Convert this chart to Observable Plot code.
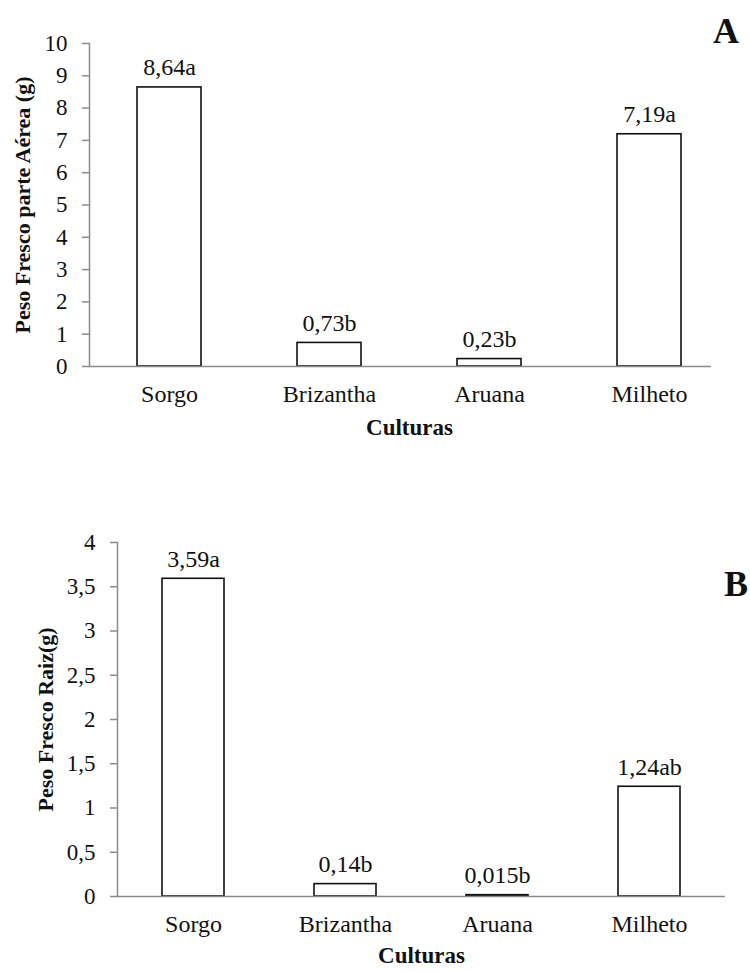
<!DOCTYPE html>
<html>
<head>
<meta charset="utf-8">
<script src="https://cdn.jsdelivr.net/npm/d3@7"></script>
<script src="https://cdn.jsdelivr.net/npm/@observablehq/plot@0.6"></script>
<style>
  html, body { margin: 0; padding: 0; background: #fff; }
  #wrap { position: relative; width: 750px; height: 973px; }
  #wrap svg { display: block; }
  #wrap svg text { font-family: "Liberation Serif", "Times New Roman", serif !important; }
  .panel { position: absolute; font-family: "Liberation Serif", "Times New Roman", serif; font-weight: bold; font-size: 36px; color: #111; line-height: 1; }
</style>
</head>
<body>
<div id="wrap">
  <div id="chartA"></div>
  <div id="chartB"></div>
  <div class="panel" style="left:713px; top:13px;">A</div>
  <div class="panel" style="left:724px; top:566px;">B</div>
</div>
<script>
const culturas = ["Sorgo", "Brizantha", "Aruana", "Milheto"];
const pesoAerea = [8.64, 0.73, 0.23, 7.19];
const letrasAerea = ["a", "b", "b", "a"];
const pesoRaiz = [3.59, 0.14, 0.015, 1.24];
const letrasRaiz = ["a", "b", "b", "ab"];
const ticksAerea = [0, 1, 2, 3, 4, 5, 6, 7, 8, 9, 10];
const ticksRaiz = [0, 0.5, 1, 1.5, 2, 2.5, 3, 3.5, 4];
const tituloYAerea = "Peso Fresco parte Aérea (g)";
const tituloYRaiz = "Peso Fresco Raiz(g)";
const tituloX = "Culturas";

const virgula = v => String(v).replace(".", ",");
const dataA = culturas.map((c, i) => ({cultura: c, valor: pesoAerea[i], rotulo: virgula(pesoAerea[i]) + letrasAerea[i]}));
const dataB = culturas.map((c, i) => ({cultura: c, valor: pesoRaiz[i], rotulo: virgula(pesoRaiz[i]) + letrasRaiz[i]}));

const serif = "'Liberation Serif', 'Times New Roman', serif";
const font = {fontFamily: serif, fontSize: "24px", color: "#111", background: "#fff", overflow: "visible"};

function painel({data, ticks, yMax, tituloY, height, mt, mb, ml, mr, xRange, pin, pout, yTitleDx, xTitleDy, xTitleDx}) {
  return Plot.plot({
    width: 750, height, marginTop: mt, marginBottom: mb, marginLeft: ml, marginRight: mr,
    style: font,
    x: {domain: culturas, range: xRange, paddingInner: pin, paddingOuter: pout, label: null, axis: null},
    y: {domain: [0, yMax], label: null, axis: null},
    marks: [
      Plot.barY(data, {x: "cultura", y: "valor", fill: "#fff", stroke: "#111", strokeWidth: 1.6}),
      Plot.ruleY([0], {stroke: "#8c8c8c", strokeWidth: 1.5}),
      Plot.frame({anchor: "left", stroke: "#8c8c8c", strokeWidth: 1.5}),
      Plot.axisY({ticks, tickSize: 7, tickPadding: 15, stroke: "#8c8c8c", strokeWidth: 1.5, tickFormat: virgula, label: null, fill: "#111", fontFamily: serif, fontSize: 23}),
      Plot.axisX({tickSize: 0, tickPadding: 18, label: null, fill: "#111", fontFamily: serif, fontSize: 24}),
      Plot.text(data, {x: "cultura", y: "valor", text: "rotulo", lineAnchor: "bottom", dy: -12, fill: "#111", fontFamily: serif, fontSize: 24}),
      Plot.text([tituloY], {frameAnchor: "left", textAnchor: "middle", rotate: -90, dx: yTitleDx, fontWeight: "bold", fill: "#111", fontSize: 22, fontFamily: serif}),
      Plot.text([tituloX], {frameAnchor: "bottom", textAnchor: "middle", dy: xTitleDy, dx: xTitleDx, fontWeight: "bold", fill: "#111", fontSize: 23, fontFamily: serif})
    ]
  });
}

document.getElementById("chartA").append(painel({
  data: dataA, ticks: ticksAerea, yMax: 10, tituloY: tituloYAerea,
  height: 440, mt: 43, mb: 74, ml: 89, mr: 39, xRange: [89, 729], pin: 0.6, pout: 0.3,
  yTitleDx: -67, xTitleDy: 68, xTitleDx: 9
}));
document.getElementById("chartB").append(painel({
  data: dataB, ticks: ticksRaiz, yMax: 4, tituloY: tituloYRaiz,
  height: 533, mt: 102, mb: 77, ml: 117, mr: 25, xRange: [117, 725], pin: 0.592, pout: 0.296,
  yTitleDx: -72, xTitleDy: 66, xTitleDx: 0
}));
</script>
</body>
</html>
